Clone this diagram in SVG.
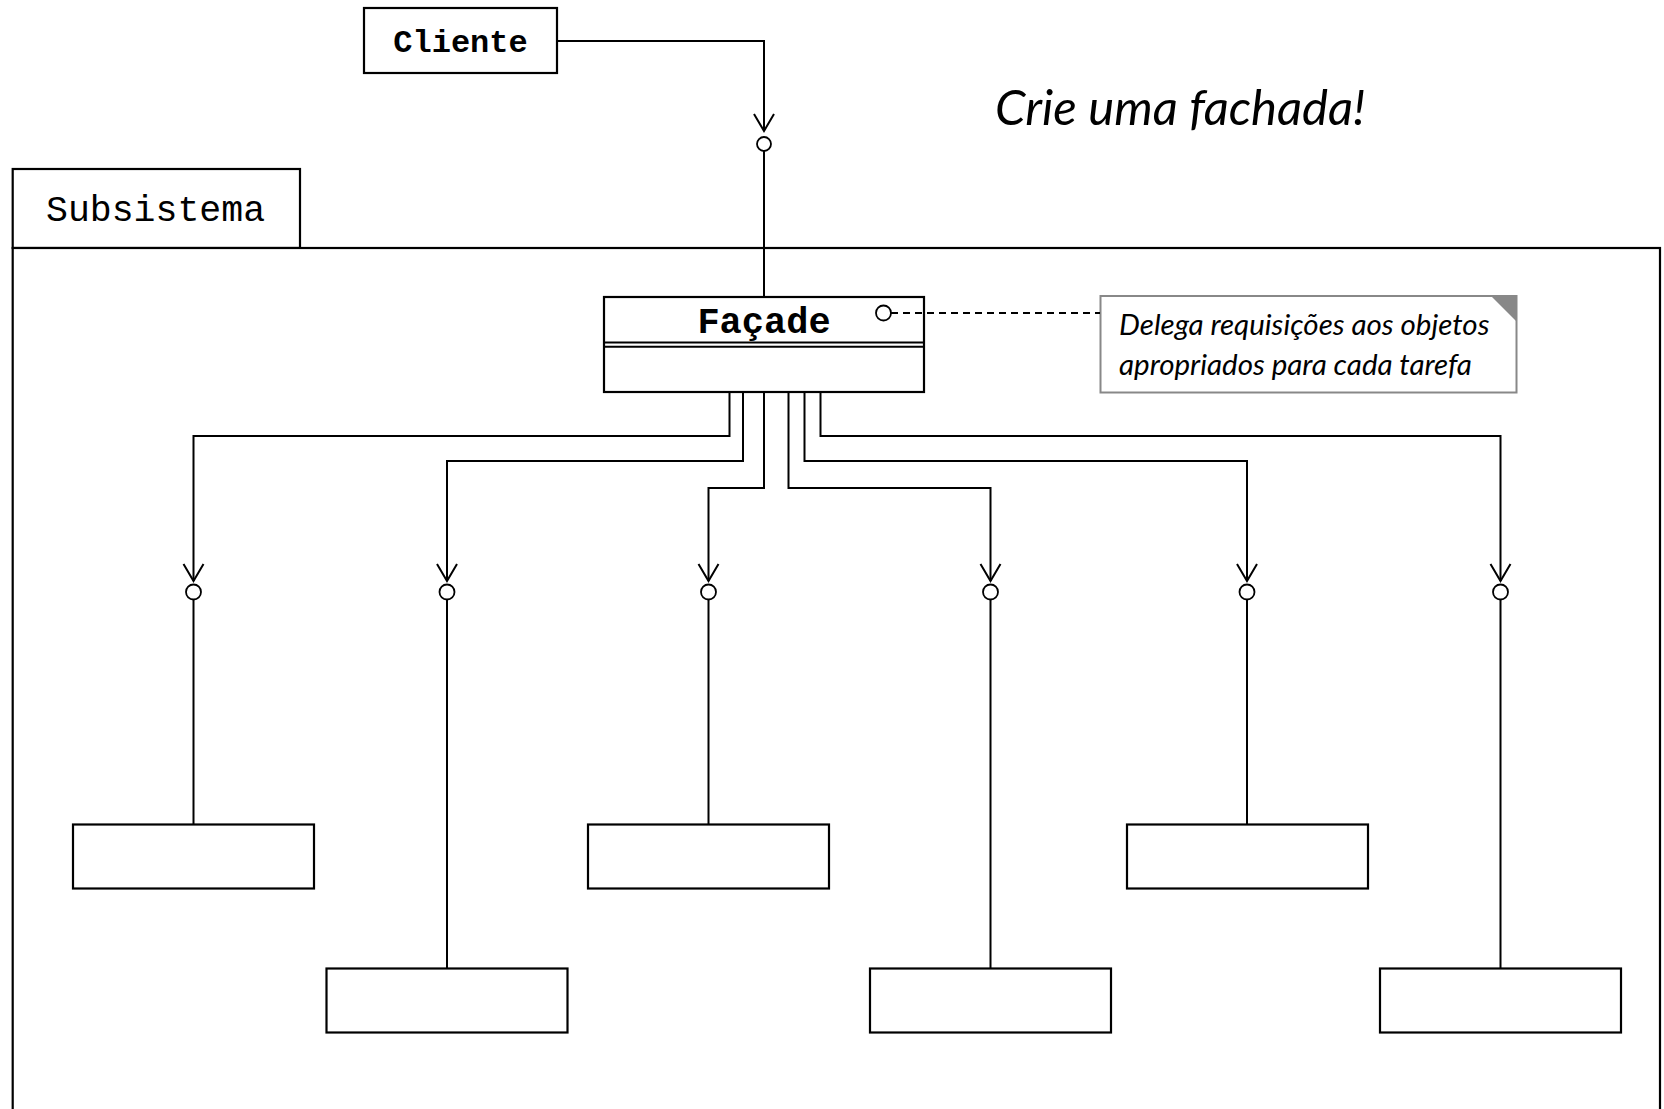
<svg xmlns="http://www.w3.org/2000/svg" width="1664" height="1109" viewBox="0 0 1664 1109">
<style>
.box{fill:#fff;stroke:#000;stroke-width:2.2}
.ln{fill:none;stroke:#000;stroke-width:2}
.mono{font-family:"Liberation Mono","Courier New",monospace;fill:#000}
.hum{font-family:Lato,"Open Sans",sans-serif;font-style:italic;fill:#000}
.lol{fill:#fff;stroke:#000;stroke-width:1.8}
</style>
<defs>
<marker id="arr" markerWidth="24" markerHeight="24" refX="20" refY="12" orient="auto" markerUnits="userSpaceOnUse" viewBox="0 0 24 24">
<path d="M3,2 L20,12 L3,22" fill="none" stroke="#000" stroke-width="2"/>
</marker>
</defs>
<rect width="1664" height="1109" fill="#fff"/>

<g id="subsistema">
<rect class="box" x="12.7" y="169" width="287.3" height="79"/>
<rect class="box" x="12.7" y="248" width="1647.3" height="880"/>
<text class="mono" x="46" y="221" font-size="36.5">Subsistema</text>
</g>

<g id="titulo">
<text class="hum" x="995" y="125" font-size="49">Crie uma fachada!</text>
</g>

<g id="cliente">
<rect class="box" x="364" y="8" width="193" height="65"/>
<text class="mono" x="460.5" y="52" font-size="32" font-weight="bold" text-anchor="middle">Cliente</text>
</g>

<g id="facade">
<rect class="box" x="604" y="297" width="320" height="95"/>
<line class="ln" x1="604" y1="342.5" x2="924" y2="342.5"/>
<line class="ln" x1="604" y1="346.8" x2="924" y2="346.8"/>
<text class="mono" x="764" y="333" font-size="37" font-weight="bold" text-anchor="middle">Façade</text>
</g>

<g id="nota">
<rect x="1100.5" y="296" width="416" height="96.5" fill="#fff" stroke="#888" stroke-width="2"/>
<polygon points="1491,296 1516.5,296 1516.5,321.5" fill="#888"/>
<text class="hum" x="1119" y="335" font-size="29.5">Delega requisições aos objetos</text>
<text class="hum" x="1119" y="374.5" font-size="29.5">apropriados para cada tarefa</text>
</g>

<g id="classe1"><rect class="box" x="73" y="824.5" width="241" height="64"/></g>
<g id="classe2"><rect class="box" x="326.5" y="968.5" width="241" height="64"/></g>
<g id="classe3"><rect class="box" x="588" y="824.5" width="241" height="64"/></g>
<g id="classe4"><rect class="box" x="870" y="968.5" width="241" height="64"/></g>
<g id="classe5"><rect class="box" x="1127" y="824.5" width="241" height="64"/></g>
<g id="classe6"><rect class="box" x="1380" y="968.5" width="241" height="64"/></g>

<g id="connectors">
<path class="ln" d="M557,41 H764 V131" marker-end="url(#arr)"/>
<line class="ln" x1="764" y1="151" x2="764" y2="297"/>
<circle class="lol" cx="764" cy="144" r="7"/>

<line x1="891" y1="313" x2="1100" y2="313" stroke="#000" stroke-width="1.8" stroke-dasharray="7,5"/>
<circle class="lol" cx="883.5" cy="313" r="7.5"/>

<path class="ln" d="M729.5,392 V436 H193.5 V581" marker-end="url(#arr)"/>
<path class="ln" d="M743,392 V461 H447 V581" marker-end="url(#arr)"/>
<path class="ln" d="M764,392 V488 H708.5 V581" marker-end="url(#arr)"/>
<path class="ln" d="M788.5,392 V488 H990.5 V581" marker-end="url(#arr)"/>
<path class="ln" d="M804.5,392 V461 H1247 V581" marker-end="url(#arr)"/>
<path class="ln" d="M820.5,392 V436 H1500.5 V581" marker-end="url(#arr)"/>

<line class="ln" x1="193.5" y1="599" x2="193.5" y2="824.5"/>
<line class="ln" x1="447" y1="599" x2="447" y2="968.5"/>
<line class="ln" x1="708.5" y1="599" x2="708.5" y2="824.5"/>
<line class="ln" x1="990.5" y1="599" x2="990.5" y2="968.5"/>
<line class="ln" x1="1247" y1="599" x2="1247" y2="824.5"/>
<line class="ln" x1="1500.5" y1="599" x2="1500.5" y2="968.5"/>

<circle class="lol" cx="193.5" cy="592" r="7.5"/>
<circle class="lol" cx="447" cy="592" r="7.5"/>
<circle class="lol" cx="708.5" cy="592" r="7.5"/>
<circle class="lol" cx="990.5" cy="592" r="7.5"/>
<circle class="lol" cx="1247" cy="592" r="7.5"/>
<circle class="lol" cx="1500.5" cy="592" r="7.5"/>
</g>
</svg>
